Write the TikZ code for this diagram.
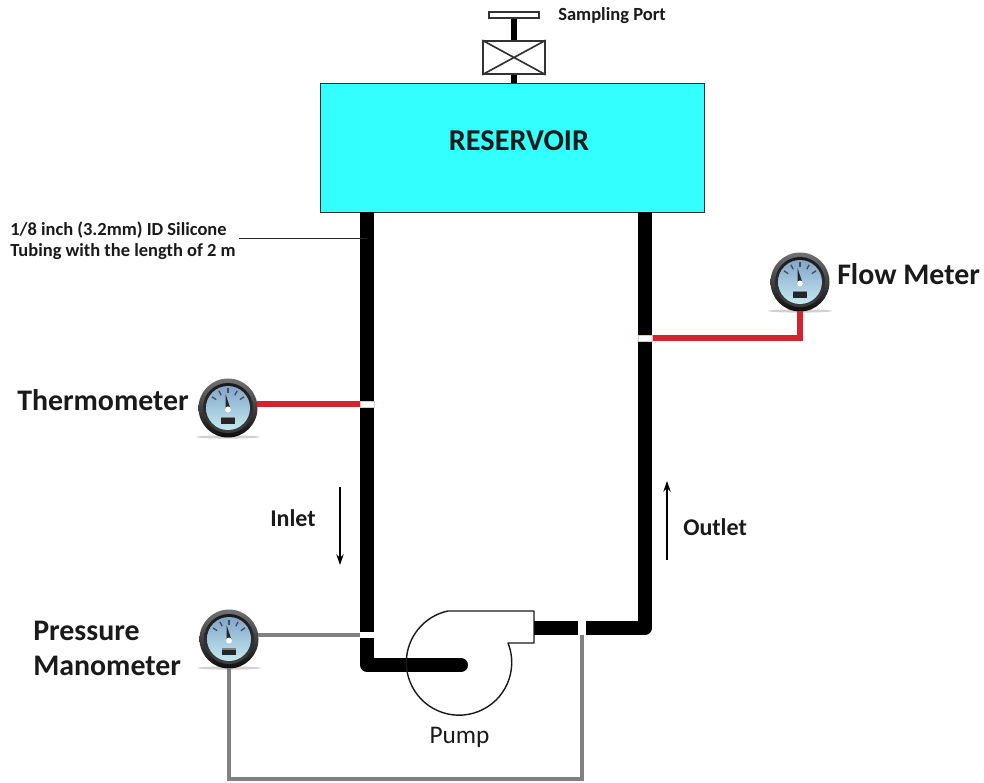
\documentclass[tikz,border=0pt]{standalone}
\usepackage{fontspec}
\setmainfont{Carlito}
\usetikzlibrary{arrows.meta}
\definecolor{txt}{HTML}{1A1A1A}
\definecolor{resfill}{HTML}{33FFFF}
\definecolor{redline}{HTML}{D4232F}
\definecolor{greyline}{HTML}{808080}
\definecolor{gface}{HTML}{B5E4EC}
\tikzset{
  x=.75pt,y=.75pt,
  reservoirbox/.style={draw=black!80,line width=.7pt,fill=resfill,minimum width=288pt,minimum height=96.75pt,inner sep=0pt},
  pipeflat/.style={line width=10.3pt,black,line join=round},
  redtap/.style={line width=3.9pt,redline,line join=miter},
  greytap/.style={line width=3.6pt,greyline,line join=miter},
  tapgap/.style={fill=white,minimum width=10.5pt,minimum height=4.4pt,inner sep=0pt,draw=none},
  tapgapv/.style={fill=white,minimum width=5.6pt,minimum height=10.5pt,inner sep=0pt,draw=none},
  tappoint/.style={inner sep=0pt,minimum size=0pt},
  gaugebody/.style={circle,minimum size=43.5pt,inner sep=0pt,draw=none,fill=none},
  biglabel/.style={anchor=west,inner sep=0pt,text=txt,font=\bfseries\fontsize{22.4}{25}\selectfont},
  midlabel/.style={anchor=west,inner sep=0pt,text=txt,font=\bfseries\fontsize{18}{20}\selectfont},
  smalllabel/.style={anchor=west,inner sep=0pt,text=txt,font=\bfseries\fontsize{13.9}{16}\selectfont},
  noteline/.style={anchor=west,inner sep=0pt,text=txt,font=\bfseries\fontsize{13.85}{15}\selectfont},
  flowarrow/.style={line width=1.1pt,black,-{Stealth[length=8pt,width=5.5pt]}},
  outline/.style={line width=1.05pt,black!90},
  valvepart/.style={draw=black!80,line width=1.25pt,fill=white,inner sep=0pt},
}
\newcommand{\gaugeat}[3]{%
  \fill[black!18] (#2,#3-29) ellipse [x radius=32,y radius=1.6];
  \shade[top color=black!55,bottom color=black!95] (#2,#3) circle [radius=29.5];
  \shade[top color=black!90,bottom color=black!75] (#2,#3) circle [radius=25];
  \shade[top color=gface!85!blue!85!black,bottom color=gface!80!white] (#2,#3) circle [radius=22];
  \foreach \a in {35,62,90,118,145}{
    \draw[line width=1pt,black!65!gface] (#2,#3)++(\a:14.5) -- ++(\a:5);
  }
  \fill[black!85] (#2-2.5,#3-1) -- (#2-2.5,#3+14) -- (#2+2.5,#3-1) -- cycle;
  \fill[white] (#2,#3-1.5) circle [radius=3];
  \fill[black!85] (#2-7,#3-16) rectangle (#2+7,#3-9);
  \fill[black!50] (#2-7,#3-10.5) rectangle (#2+7,#3-9);
  \node[gaugebody] (#1) at (#2,#3) {};
}
\begin{document}
\begin{tikzpicture}
\useasboundingbox[fill=white] (0,0) rectangle (984,782);
% reservoir and taps
\node[reservoirbox] (res) at (512,634.5) {};
\node[anchor=center,inner sep=0pt,text=txt,font=\bfseries\fontsize{22.7}{24}\selectfont] (restext) at (519,641) {RESERVOIR};
\coordinate (pumpin) at (461,117);
\coordinate (pumpcentre) at (459,119.5);
\coordinate (pumpout) at (534,154);
\node[tappoint] (tT) at (367,378) {};
\node[tappoint] (tF) at (645,444) {};
\node[tappoint] (tP) at (367,147) {};
\node[tappoint] (tL) at (582,154) {};
% pipes
\draw[pipeflat] (res.south -| tT) -- (tT |- pumpin) -- (pumpin);
\fill[black] (pumpin) circle [radius=7];
\draw[pipeflat] (res.south -| tF) -- (tF |- tL) -- (pumpout);
% pump
\node[inner sep=0pt] (pump) at (pumpcentre) {};
\draw[outline,line join=round] (448,171) -- (534,171) -- (534,139) -- (508,139)
  arc [start angle=21.7,end angle=-258,radius=52.7];
\draw[pipeflat] (420,117) -- (pumpin);
\node[anchor=center,inner sep=0pt,text=txt,font=\fontsize{19}{22}\selectfont] at (459.5,45) {Pump};
% gauges
\gaugeat{thermo}{228}{374}
\gaugeat{press}{229}{143}
\gaugeat{flowm}{800}{500}
% tap lines
\draw[redtap] (thermo.east |- tT) -- (tT);
\draw[redtap] (flowm.south) -- (flowm.south |- tF) -- (tF);
\draw[greytap] (press.east |- tP) -- (tP);
\coordinate (loopbottom) at (400,3);
\draw[greytap] (press.south) -- (press.south |- loopbottom) -- (loopbottom -| tL) -- (tL);
\node[tapgap,draw=redline!30,line width=.4pt] (gT) at (tT) {};
\node[tapgap,draw=redline!30,line width=.4pt] (gF) at (tF) {};
\node[tapgap] (gP) at (tP) {};
\node[tapgapv] (gL) at (tL) {};
% valve
\node[valvepart,minimum width=37.5pt,minimum height=4.6pt] (handle) at (514,767) {};
\node[valvepart,minimum width=46.5pt,minimum height=24.7pt] (valve) at (514,724.5) {};
\draw[black,line width=4.5pt] (handle.south) -- (valve.north);
\draw[black,line width=4.5pt] (valve.south) -- (valve.south |- res.north);
\draw[black!80,line width=1.25pt] (valve.south west) -- (valve.north east) (valve.north west) -- (valve.south east);
% labels
\node[smalllabel] at (558,766) {Sampling Port};
\node[noteline] (n1) at (10,552) {1/8 inch (3.2mm) ID Silicone};
\node[noteline] at (10,530) {Tubing with the length of 2 m};
\coordinate (leadstart) at (239,543.5);
\draw[black!85,line width=.8pt] (leadstart) -- (leadstart -| tT);
\node[biglabel] at (17,382) {Thermometer};
\node[biglabel] at (837,508) {Flow Meter};
\node[biglabel] at (33,151) {Pressure};
\node[biglabel] at (33,116) {Manometer};
\node[midlabel] at (270,264) {Inlet};
\node[midlabel] at (683,255) {Outlet};
\coordinate (ia) at (340,295);
\coordinate (ib) at (340,217);
\coordinate (oa) at (667,222);
\coordinate (ob) at (667,301);
\draw[flowarrow] (ia) -- (ib);
\draw[flowarrow] (oa) -- (ob);
\end{tikzpicture}
\end{document}
